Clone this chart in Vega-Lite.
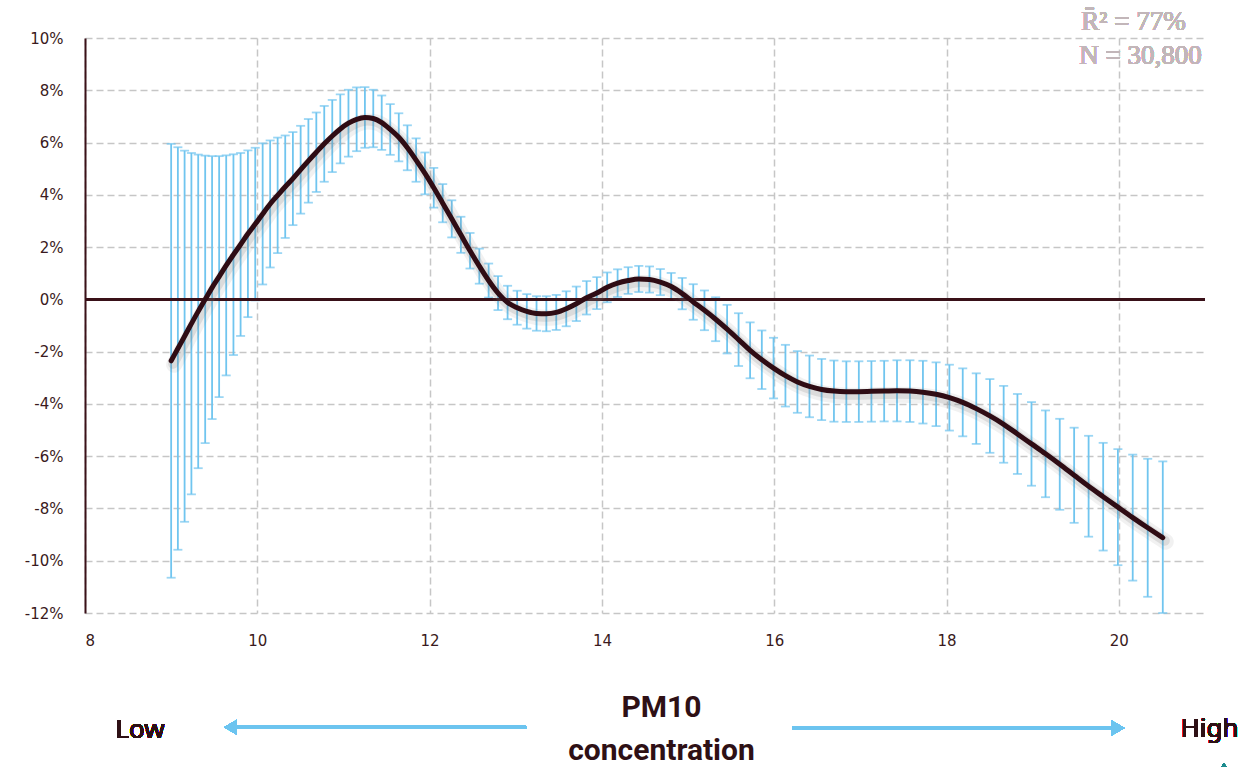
{
  "$schema": "https://vega.github.io/schema/vega-lite/v6.json",
  "width": 1120,
  "height": 575,
  "autosize": {"type": "none"},
  "padding": {"left": 85, "top": 38, "right": 53, "bottom": 154},
  "background": "white",
  "config": {
    "view": {"stroke": null},
    "axis": {
      "labelFont": "DejaVu Sans",
      "labelFontSize": 15,
      "labelColor": "#3a1a20",
      "ticks": false,
      "grid": true,
      "gridColor": "#c6c6c6",
      "gridDash": [7, 4],
      "gridWidth": 1.5
    }
  },
  "data": {
    "values": [
      {"x": 9.000, "y": -2.35, "lo": -10.65, "hi": 5.95},
      {"x": 9.078, "y": -1.88, "lo": -9.58, "hi": 5.82},
      {"x": 9.156, "y": -1.41, "lo": -8.51, "hi": 5.69},
      {"x": 9.235, "y": -0.93, "lo": -7.46, "hi": 5.60},
      {"x": 9.314, "y": -0.46, "lo": -6.46, "hi": 5.54},
      {"x": 9.395, "y": 0.00, "lo": -5.50, "hi": 5.50},
      {"x": 9.475, "y": 0.45, "lo": -4.58, "hi": 5.48},
      {"x": 9.557, "y": 0.87, "lo": -3.74, "hi": 5.48},
      {"x": 9.639, "y": 1.30, "lo": -2.91, "hi": 5.51},
      {"x": 9.723, "y": 1.71, "lo": -2.13, "hi": 5.55},
      {"x": 9.806, "y": 2.10, "lo": -1.40, "hi": 5.60},
      {"x": 9.891, "y": 2.51, "lo": -0.68, "hi": 5.70},
      {"x": 9.976, "y": 2.88, "lo": -0.04, "hi": 5.80},
      {"x": 10.062, "y": 3.27, "lo": 0.57, "hi": 5.97},
      {"x": 10.149, "y": 3.65, "lo": 1.22, "hi": 6.08},
      {"x": 10.236, "y": 3.98, "lo": 1.77, "hi": 6.19},
      {"x": 10.324, "y": 4.31, "lo": 2.35, "hi": 6.27},
      {"x": 10.413, "y": 4.62, "lo": 2.84, "hi": 6.40},
      {"x": 10.503, "y": 4.96, "lo": 3.28, "hi": 6.64},
      {"x": 10.593, "y": 5.30, "lo": 3.70, "hi": 6.90},
      {"x": 10.685, "y": 5.63, "lo": 4.11, "hi": 7.15},
      {"x": 10.777, "y": 5.95, "lo": 4.50, "hi": 7.40},
      {"x": 10.870, "y": 6.25, "lo": 4.87, "hi": 7.63},
      {"x": 10.963, "y": 6.52, "lo": 5.20, "hi": 7.84},
      {"x": 11.058, "y": 6.74, "lo": 5.46, "hi": 8.02},
      {"x": 11.153, "y": 6.89, "lo": 5.67, "hi": 8.11},
      {"x": 11.249, "y": 6.96, "lo": 5.80, "hi": 8.12},
      {"x": 11.346, "y": 6.92, "lo": 5.82, "hi": 8.02},
      {"x": 11.444, "y": 6.76, "lo": 5.72, "hi": 7.80},
      {"x": 11.543, "y": 6.50, "lo": 5.53, "hi": 7.47},
      {"x": 11.642, "y": 6.20, "lo": 5.28, "hi": 7.12},
      {"x": 11.742, "y": 5.80, "lo": 4.94, "hi": 6.66},
      {"x": 11.843, "y": 5.33, "lo": 4.50, "hi": 6.16},
      {"x": 11.946, "y": 4.82, "lo": 4.02, "hi": 5.62},
      {"x": 12.048, "y": 4.27, "lo": 3.51, "hi": 5.03},
      {"x": 12.152, "y": 3.68, "lo": 2.95, "hi": 4.41},
      {"x": 12.257, "y": 3.08, "lo": 2.37, "hi": 3.79},
      {"x": 12.363, "y": 2.47, "lo": 1.78, "hi": 3.16},
      {"x": 12.469, "y": 1.86, "lo": 1.18, "hi": 2.54},
      {"x": 12.577, "y": 1.27, "lo": 0.60, "hi": 1.94},
      {"x": 12.685, "y": 0.72, "lo": 0.07, "hi": 1.37},
      {"x": 12.794, "y": 0.24, "lo": -0.41, "hi": 0.89},
      {"x": 12.905, "y": -0.12, "lo": -0.76, "hi": 0.52},
      {"x": 13.016, "y": -0.32, "lo": -0.97, "hi": 0.33},
      {"x": 13.128, "y": -0.46, "lo": -1.12, "hi": 0.20},
      {"x": 13.241, "y": -0.54, "lo": -1.20, "hi": 0.12},
      {"x": 13.355, "y": -0.55, "lo": -1.22, "hi": 0.12},
      {"x": 13.470, "y": -0.50, "lo": -1.17, "hi": 0.17},
      {"x": 13.586, "y": -0.36, "lo": -1.03, "hi": 0.31},
      {"x": 13.703, "y": -0.17, "lo": -0.83, "hi": 0.49},
      {"x": 13.822, "y": 0.06, "lo": -0.58, "hi": 0.70},
      {"x": 13.941, "y": 0.24, "lo": -0.37, "hi": 0.85},
      {"x": 14.061, "y": 0.46, "lo": -0.11, "hi": 1.03},
      {"x": 14.182, "y": 0.62, "lo": 0.09, "hi": 1.15},
      {"x": 14.305, "y": 0.72, "lo": 0.21, "hi": 1.23},
      {"x": 14.428, "y": 0.78, "lo": 0.28, "hi": 1.28},
      {"x": 14.552, "y": 0.76, "lo": 0.26, "hi": 1.26},
      {"x": 14.678, "y": 0.66, "lo": 0.16, "hi": 1.16},
      {"x": 14.804, "y": 0.49, "lo": -0.03, "hi": 1.01},
      {"x": 14.932, "y": 0.22, "lo": -0.38, "hi": 0.82},
      {"x": 15.060, "y": -0.10, "lo": -0.78, "hi": 0.58},
      {"x": 15.190, "y": -0.42, "lo": -1.18, "hi": 0.34},
      {"x": 15.320, "y": -0.76, "lo": -1.60, "hi": 0.08},
      {"x": 15.453, "y": -1.14, "lo": -2.07, "hi": -0.21},
      {"x": 15.586, "y": -1.54, "lo": -2.55, "hi": -0.53},
      {"x": 15.720, "y": -1.95, "lo": -3.02, "hi": -0.88},
      {"x": 15.856, "y": -2.31, "lo": -3.43, "hi": -1.19},
      {"x": 15.992, "y": -2.63, "lo": -3.79, "hi": -1.47},
      {"x": 16.130, "y": -2.92, "lo": -4.10, "hi": -1.74},
      {"x": 16.269, "y": -3.16, "lo": -4.34, "hi": -1.98},
      {"x": 16.409, "y": -3.33, "lo": -4.51, "hi": -2.15},
      {"x": 16.550, "y": -3.45, "lo": -4.62, "hi": -2.28},
      {"x": 16.693, "y": -3.51, "lo": -4.68, "hi": -2.34},
      {"x": 16.837, "y": -3.53, "lo": -4.69, "hi": -2.37},
      {"x": 16.982, "y": -3.53, "lo": -4.69, "hi": -2.37},
      {"x": 17.128, "y": -3.52, "lo": -4.68, "hi": -2.36},
      {"x": 17.276, "y": -3.51, "lo": -4.67, "hi": -2.35},
      {"x": 17.425, "y": -3.50, "lo": -4.67, "hi": -2.33},
      {"x": 17.575, "y": -3.51, "lo": -4.69, "hi": -2.33},
      {"x": 17.726, "y": -3.55, "lo": -4.75, "hi": -2.35},
      {"x": 17.879, "y": -3.63, "lo": -4.85, "hi": -2.41},
      {"x": 18.033, "y": -3.76, "lo": -5.02, "hi": -2.50},
      {"x": 18.188, "y": -3.94, "lo": -5.24, "hi": -2.64},
      {"x": 18.345, "y": -4.18, "lo": -5.53, "hi": -2.83},
      {"x": 18.503, "y": -4.46, "lo": -5.87, "hi": -3.05},
      {"x": 18.663, "y": -4.78, "lo": -6.25, "hi": -3.31},
      {"x": 18.823, "y": -5.15, "lo": -6.68, "hi": -3.62},
      {"x": 18.986, "y": -5.53, "lo": -7.13, "hi": -3.93},
      {"x": 19.149, "y": -5.91, "lo": -7.57, "hi": -4.25},
      {"x": 19.314, "y": -6.31, "lo": -8.05, "hi": -4.57},
      {"x": 19.481, "y": -6.73, "lo": -8.55, "hi": -4.91},
      {"x": 19.649, "y": -7.15, "lo": -9.08, "hi": -5.22},
      {"x": 19.818, "y": -7.55, "lo": -9.61, "hi": -5.49},
      {"x": 19.989, "y": -7.95, "lo": -10.17, "hi": -5.73},
      {"x": 20.161, "y": -8.35, "lo": -10.76, "hi": -5.94},
      {"x": 20.335, "y": -8.74, "lo": -11.38, "hi": -6.10},
      {"x": 20.510, "y": -9.12, "lo": -12.00, "hi": -6.20}
    ]
  },
  "encoding": {
    "x": {
      "field": "x",
      "type": "quantitative",
      "scale": {"domain": [8, 21], "nice": false, "zero": false},
      "axis": {
        "values": [8, 10, 12, 14, 16, 18, 20],
        "domain": false,
        "labelPadding": 20,
        "title": ["PM10", "concentration"],
        "titleFont": "Roboto",
        "titleFontWeight": "bold",
        "titleFontSize": 30,
        "titleColor": "#2e1015",
        "titleLineHeight": 43,
        "titleBaseline": "alphabetic",
        "titleX": 576,
        "titleY": 103
      }
    },
    "y": {
      "field": "y",
      "type": "quantitative",
      "scale": {"domain": [-12, 10], "nice": false, "zero": false},
      "axis": {
        "values": [-12, -10, -8, -6, -4, -2, 0, 2, 4, 6, 8, 10],
        "labelExpr": "datum.value + '%'",
        "domain": true,
        "domainColor": "#3a1118",
        "domainWidth": 2,
        "labelPadding": 22,
        "title": null
      }
    }
  },
  "layer": [
    {
      "mark": {"type": "rule", "color": "#70c5ef", "strokeWidth": 1.8},
      "encoding": {"y": {"field": "lo", "type": "quantitative"}, "y2": {"field": "hi"}}
    },
    {
      "mark": {"type": "tick", "orient": "horizontal", "color": "#70c5ef", "size": 9, "thickness": 1.8},
      "encoding": {"y": {"field": "lo", "type": "quantitative"}}
    },
    {
      "mark": {"type": "tick", "orient": "horizontal", "color": "#70c5ef", "size": 9, "thickness": 1.8},
      "encoding": {"y": {"field": "hi", "type": "quantitative"}}
    },
    {
      "mark": {"type": "rule", "color": "#3a1118", "strokeWidth": 1.7},
      "encoding": {"x": {"value": 0}, "x2": {"value": 1120}, "y": {"datum": 0, "type": "quantitative"}}
    },
    {
      "mark": {"type": "line", "color": "#7a7a7a", "strokeWidth": 16, "opacity": 0.1, "xOffset": 3, "yOffset": 4, "interpolate": "monotone", "strokeCap": "round"},
      "encoding": {}
    },
    {
      "mark": {"type": "line", "color": "#7a7a7a", "strokeWidth": 10, "opacity": 0.18, "xOffset": 2, "yOffset": 3, "interpolate": "monotone", "strokeCap": "round"},
      "encoding": {}
    },
    {
      "mark": {"type": "line", "color": "#2f0c14", "strokeWidth": 5, "interpolate": "monotone", "strokeCap": "round"},
      "encoding": {}
    },
    {
      "mark": {"type": "text", "text": "R\u0304\u00b2 = 77%", "font": "Liberation Serif", "fontWeight": "normal", "fontSize": 27, "fill": "#c2b6b9", "strokeWidth": 0, "align": "center", "baseline": "middle"},
      "encoding": {"x": {"datum": 20.17, "type": "quantitative"}, "y": {"datum": 10.6, "type": "quantitative"}}
    },
    {
      "mark": {"type": "text", "text": "N = 30,800", "font": "Liberation Serif", "fontWeight": "normal", "fontSize": 27, "fill": "#c2b6b9", "strokeWidth": 0, "align": "center", "baseline": "middle"},
      "encoding": {"x": {"datum": 20.25, "type": "quantitative"}, "y": {"datum": 9.3, "type": "quantitative"}}
    },
    {
      "mark": {"type": "text", "text": "Low", "font": "Noto Sans", "fontWeight": 400, "fontSize": 26, "fill": "#2e1015", "strokeWidth": 0, "align": "center", "baseline": "alphabetic"},
      "encoding": {"x": {"datum": 8.638, "type": "quantitative"}, "y": {"datum": -16.8, "type": "quantitative"}}
    },
    {
      "mark": {"type": "text", "text": "High", "font": "Noto Sans", "fontWeight": 400, "fontSize": 26, "fill": "#2e1015", "strokeWidth": 0, "align": "center", "baseline": "alphabetic"},
      "encoding": {"x": {"datum": 21.053, "type": "quantitative"}, "y": {"datum": -16.76, "type": "quantitative"}}
    },
    {
      "mark": {"type": "rule", "color": "#6cc4ef", "strokeWidth": 3},
      "encoding": {"x": {"datum": 9.72, "type": "quantitative"}, "x2": {"datum": 13.12}, "y": {"datum": -16.37, "type": "quantitative"}}
    },
    {
      "mark": {"type": "rule", "color": "#6cc4ef", "strokeWidth": 3},
      "encoding": {"x": {"datum": 16.207, "type": "quantitative"}, "x2": {"datum": 19.95}, "y": {"datum": -16.4, "type": "quantitative"}}
    },
    {
      "mark": {"type": "point", "shape": "triangle-left", "filled": true, "color": "#6cc4ef", "opacity": 1, "size": 220},
      "encoding": {"x": {"datum": 9.69, "type": "quantitative"}, "y": {"datum": -16.37, "type": "quantitative"}}
    },
    {
      "mark": {"type": "point", "shape": "triangle-right", "filled": true, "color": "#6cc4ef", "opacity": 1, "size": 220},
      "encoding": {"x": {"datum": 19.99, "type": "quantitative"}, "y": {"datum": -16.4, "type": "quantitative"}}
    },
    {
      "mark": {"type": "point", "shape": "triangle-up", "filled": true, "color": "#1f8a8c", "opacity": 1, "size": 160},
      "encoding": {"x": {"datum": 21.22, "type": "quantitative"}, "y": {"datum": -17.95, "type": "quantitative"}}
    }
  ]
}
